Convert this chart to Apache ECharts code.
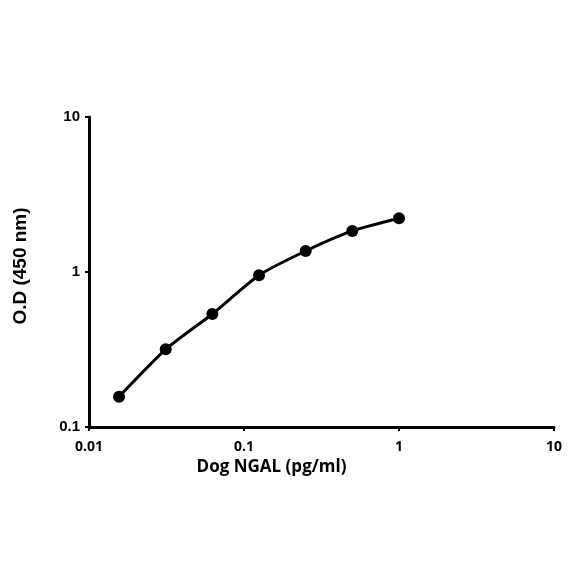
<!DOCTYPE html>
<html>
<head>
<meta charset="utf-8">
<style>
html,body{margin:0;padding:0;background:#fff;}
#main{width:584px;height:584px;}
</style>
</head>
<body>
<div id="main"></div>
<script src="https://cdn.jsdelivr.net/npm/echarts@6/dist/echarts.min.js"></script>
<script type="text/javascript">
// standard curve, Dog NGAL
var conc = [0.015625, 0.03125, 0.0625, 0.125, 0.25, 0.5, 1];
var od = [0.157, 0.317, 0.536, 0.952, 1.366, 1.84, 2.22];

var pts = [];
for (var i = 0; i < conc.length; i++) {
    pts.push([conc[i], od[i]]);
}

var myChart = echarts.init(document.getElementById('main'));
var option = {
    animation: false,
    grid: { left: 89, right: 30, top: 117, bottom: 157 },
    xAxis: {
        type: 'log',
        logBase: 10,
        min: 0.01,
        max: 10,
        name: 'Dog NGAL (pg/ml)',
        nameLocation: 'middle',
        nameGap: 30,
        nameTextStyle: { color: '#000', fontSize: 17, fontWeight: 'bold', fontFamily: 'Open Sans', padding: [0, 100, 0, 0] },
        axisLine: { lineStyle: { color: '#000', width: 3 } },
        axisTick: { show: true, length: 4, lineStyle: { color: '#000', width: 2 } },
        minorTick: { show: false },
        splitLine: { show: false },
        axisLabel: {
            color: '#000', fontSize: 14, fontWeight: 'bold', fontFamily: 'Open Sans', margin: 13,
            formatter: function (v) { return String(+v.toPrecision(3)); }
        }
    },
    yAxis: {
        type: 'log',
        logBase: 10,
        min: 0.1,
        max: 10,
        name: 'O.D (450 nm)',
        nameLocation: 'middle',
        nameGap: 59,
        nameTextStyle: { color: '#000', fontSize: 19, fontWeight: 'bold', fontFamily: 'Liberation Sans', padding: [0, 0, 0, 12] },
        axisLine: { lineStyle: { color: '#000', width: 3 } },
        axisTick: { show: true, length: 4, lineStyle: { color: '#000', width: 2 } },
        splitLine: { show: false },
        axisLabel: {
            color: '#000', fontSize: 15, fontWeight: 'bold', fontFamily: 'Liberation Sans', margin: 9,
            formatter: function (v) { return String(+v.toPrecision(3)); }
        }
    },
    series: [
        {
            type: 'line',
            data: pts,
            smooth: 0.2,
            symbol: 'circle',
            symbolSize: 12,
            itemStyle: { color: '#000' },
            lineStyle: { color: '#000', width: 3 }
        }
    ]
};
myChart.setOption(option);
</script>
</body>
</html>
